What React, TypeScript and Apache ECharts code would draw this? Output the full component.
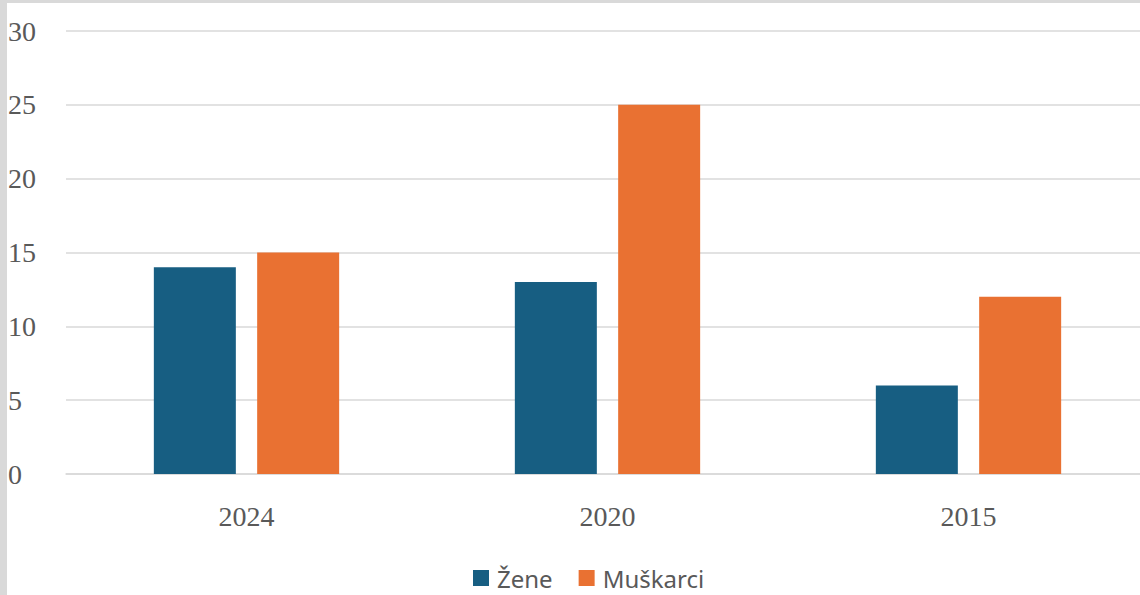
import React, { useEffect, useRef } from "react";
import * as echarts from "echarts";

const categories = ["2024", "2020", "2015"];
const zeneValues = [14, 13, 6];
const muskarciValues = [15, 25, 12];
const seriesNames = ["Žene", "Muškarci"];
const yTicks = { min: 0, max: 30, interval: 5 };

export default function App() {
  const ref = useRef<HTMLDivElement>(null);
  useEffect(() => {
    if (!ref.current) return;
    const chart = echarts.init(ref.current, null, { renderer: "svg" });
    chart.setOption({
      animation: false,
      backgroundColor: "#ffffff",
      graphic: [
        { type: "rect", left: 0, top: 0, shape: { width: 1150, height: 3 }, style: { fill: "#d9d9d9" }, z: 100 },
        { type: "rect", left: 0, top: 0, shape: { width: 7, height: 595 }, style: { fill: "#d9d9d9" }, z: 100 },
      ],
      grid: { left: 66, top: 31, bottom: 121, right: 1, containLabel: false },
      legend: {
        data: seriesNames,
        left: 473,
        top: 566,
        padding: 0,
        icon: "rect",
        itemWidth: 16,
        itemHeight: 16,
        itemGap: 26,
        textStyle: { fontFamily: "Noto Sans", fontSize: 24, lineHeight: 24, color: "#595959", padding: [0, 0, 0, 3] },
      },
      xAxis: {
        type: "category",
        data: categories,
        axisLine: { show: true, lineStyle: { color: "#d9d9d9", width: 1.5 } },
        axisTick: { show: false },
        axisLabel: { fontFamily: "Liberation Serif", fontSize: 28, color: "#595959", margin: 28 },
      },
      yAxis: {
        type: "value",
        min: yTicks.min,
        max: yTicks.max,
        interval: yTicks.interval,
        axisLine: { show: false },
        axisTick: { show: false },
        splitLine: { lineStyle: { color: "#d9d9d9", width: 1.5 } },
        axisLabel: { fontFamily: "Liberation Serif", fontSize: 28, color: "#595959", align: "left", margin: 58 },
      },
      series: [
        {
          name: seriesNames[0],
          type: "bar",
          data: zeneValues,
          barWidth: 82,
          barGap: "26%",
          itemStyle: { color: "#175e82" },
        },
        {
          name: seriesNames[1],
          type: "bar",
          data: muskarciValues,
          barWidth: 82,
          barGap: "26%",
          itemStyle: { color: "#e97132" },
        },
      ],
    });
    return () => chart.dispose();
  }, []);
  return (
    <div style={{ position: "fixed", left: 0, top: 0, width: 1140, height: 595, overflow: "hidden", background: "#fff" }}>
      <div ref={ref} style={{ width: 1150, height: 595 }} />
    </div>
  );
}
